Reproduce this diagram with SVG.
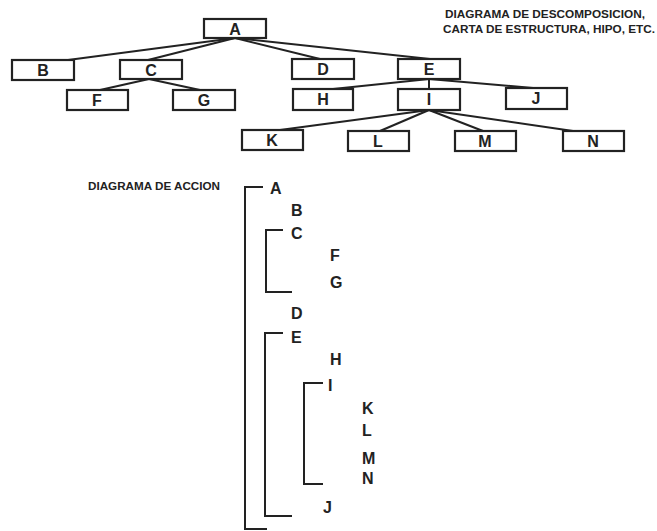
<svg xmlns="http://www.w3.org/2000/svg" width="657" height="531" viewBox="0 0 657 531">
<style>
.box rect{fill:#fff;stroke:#222;stroke-width:2.2}
.box text{font-family:"Liberation Sans",Arial,sans-serif;font-weight:bold;font-size:16px;fill:#222;text-anchor:middle}
.conn line,.conn polyline{stroke:#222;stroke-width:2;fill:none}
.lbl{font-family:"Liberation Sans",Arial,sans-serif;font-weight:bold;font-size:10px;fill:#222}
.act{font-family:"Liberation Sans",Arial,sans-serif;font-weight:bold;font-size:16px;fill:#222}
</style>
<rect width="657" height="531" fill="#fff"/>
<text class="lbl" x="445" y="18" textLength="200" lengthAdjust="spacingAndGlyphs">DIAGRAMA DE DESCOMPOSICION,</text>
<text class="lbl" x="443" y="33" textLength="212" lengthAdjust="spacingAndGlyphs">CARTA DE ESTRUCTURA, HIPO, ETC.</text>
<g class="conn" id="connectors">
<line x1="235" y1="38" x2="68" y2="60"/>
<line x1="235" y1="38" x2="148" y2="60"/>
<line x1="235" y1="38" x2="320" y2="59"/>
<line x1="235" y1="38" x2="430" y2="59"/>
<line x1="149" y1="79" x2="100" y2="90"/>
<line x1="149" y1="79" x2="200" y2="90"/>
<line x1="429" y1="79" x2="333" y2="89"/>
<line x1="429" y1="79" x2="429" y2="89"/>
<line x1="429" y1="79" x2="533" y2="88"/>
<line x1="429" y1="110" x2="280" y2="130"/>
<line x1="429" y1="110" x2="380" y2="131"/>
<line x1="429" y1="110" x2="483" y2="131"/>
<line x1="429" y1="110" x2="573" y2="131"/>
<polyline points="263,187 245,187 245,529 267,529"/>
<polyline points="283,230 266,230 266,292 292,292"/>
<polyline points="283,333 265,333 265,516 292,516"/>
<polyline points="323,383 304,383 304,484 323,484"/>
</g>
<g class="box" id="node-A"><rect x="204" y="19" width="62" height="19"/><text x="235" y="35">A</text></g>
<g class="box" id="node-B"><rect x="12" y="60" width="62" height="20"/><text x="43" y="76">B</text></g>
<g class="box" id="node-C"><rect x="120" y="60" width="62" height="19"/><text x="151" y="76">C</text></g>
<g class="box" id="node-D"><rect x="292" y="59" width="62" height="20"/><text x="323" y="75">D</text></g>
<g class="box" id="node-E"><rect x="398" y="59" width="62" height="20"/><text x="429" y="75">E</text></g>
<g class="box" id="node-F"><rect x="67" y="90" width="61" height="20"/><text x="97" y="106">F</text></g>
<g class="box" id="node-G"><rect x="173" y="90" width="62" height="20"/><text x="204" y="106">G</text></g>
<g class="box" id="node-H"><rect x="293" y="89" width="60" height="21"/><text x="323" y="105">H</text></g>
<g class="box" id="node-I"><rect x="398" y="89" width="62" height="21"/><text x="429" y="105">I</text></g>
<g class="box" id="node-J"><rect x="506" y="88" width="61" height="21"/><text x="536" y="104">J</text></g>
<g class="box" id="node-K"><rect x="242" y="130" width="61" height="20"/><text x="272" y="146">K</text></g>
<g class="box" id="node-L"><rect x="348" y="131" width="61" height="20"/><text x="378" y="147">L</text></g>
<g class="box" id="node-M"><rect x="455" y="131" width="61" height="20"/><text x="485" y="147">M</text></g>
<g class="box" id="node-N"><rect x="563" y="131" width="61" height="20"/><text x="593" y="147">N</text></g>
<g id="action-diagram">
<text class="lbl" x="88" y="190" textLength="132" lengthAdjust="spacingAndGlyphs">DIAGRAMA DE ACCION</text>
<text class="act" x="270" y="194">A</text>
<text class="act" x="291" y="216">B</text>
<text class="act" x="291" y="239">C</text>
<text class="act" x="330" y="261">F</text>
<text class="act" x="330" y="288">G</text>
<text class="act" x="291" y="319">D</text>
<text class="act" x="291" y="343">E</text>
<text class="act" x="330" y="365">H</text>
<text class="act" x="328" y="391">I</text>
<text class="act" x="362" y="414">K</text>
<text class="act" x="362" y="436">L</text>
<text class="act" x="362" y="464">M</text>
<text class="act" x="362" y="484">N</text>
<text class="act" x="323" y="513">J</text>
</g>
</svg>
